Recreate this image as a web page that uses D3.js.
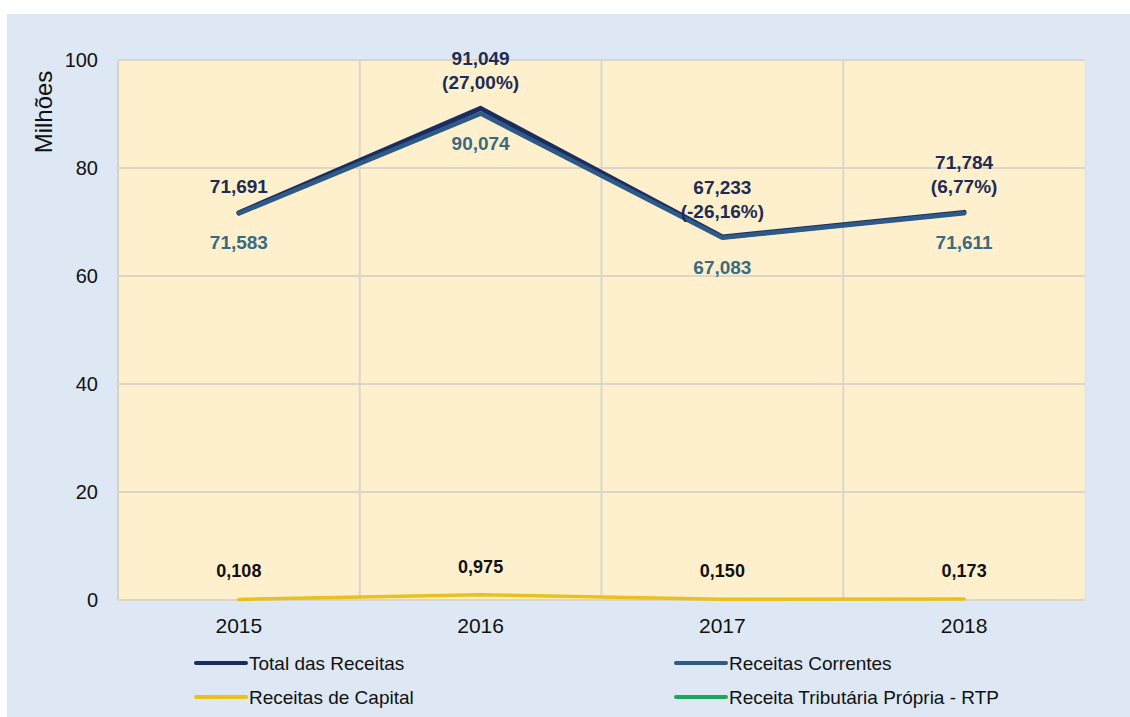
<!DOCTYPE html>
<html>
<head>
<meta charset="utf-8">
<script src="https://cdn.jsdelivr.net/npm/d3@7"></script>
<style>
  html, body { margin: 0; padding: 0; background: #ffffff; }
  svg { display: block; font-family: "Liberation Sans", Arial, sans-serif; }
</style>
</head>
<body>
<svg id="chart" width="1130" height="717"></svg>
<script>
// Receitas por ano (em milhões)
const years = ["2015", "2016", "2017", "2018"];
const totalReceitas = [71.691, 91.049, 67.233, 71.784];
const receitasCorrentes = [71.583, 90.074, 67.083, 71.611];
const receitasCapital = [0.108, 0.975, 0.150, 0.173];
const yTicks = [0, 20, 40, 60, 80, 100];

const legendItems = [
  { name: "Total das Receitas", color: "#1b2d5e" },
  { name: "Receitas Correntes", color: "#2d5a86" },
  { name: "Receitas de Capital", color: "#e8c11f" },
  { name: "Receita Tributária Própria - RTP", color: "#1da65b" }
];

const svg = d3.select("#chart");

// fundo do gráfico
svg.append("rect").attr("x", 7).attr("y", 14).attr("width", 1123).attr("height", 703)
  .attr("fill", "#dde8f4");

const plot = { left: 118, right: 1085, top: 60, bottom: 600 };

const x = d3.scaleBand().domain(years).range([plot.left, plot.right]);
const xc = d => x(d) + x.bandwidth() / 2;
const y = d3.scaleLinear().domain([0, 100]).range([plot.bottom, plot.top]);

// área de plotagem
svg.append("rect")
  .attr("x", plot.left).attr("y", plot.top)
  .attr("width", plot.right - plot.left).attr("height", plot.bottom - plot.top)
  .attr("fill", "#fff0cd");

// grades
svg.append("g").selectAll("line").data(yTicks).join("line")
  .attr("x1", plot.left).attr("x2", plot.right)
  .attr("y1", d => y(d)).attr("y2", d => y(d))
  .attr("stroke", "#dcd6c8").attr("stroke-width", 2);

svg.append("g").selectAll("line").data(years.slice(1)).join("line")
  .attr("x1", d => x(d)).attr("x2", d => x(d))
  .attr("y1", plot.top).attr("y2", plot.bottom)
  .attr("stroke", "#dcd6c8").attr("stroke-width", 2);

svg.append("line")
  .attr("x1", plot.left).attr("x2", plot.left)
  .attr("y1", plot.top).attr("y2", plot.bottom)
  .attr("stroke", "#d6d2c8").attr("stroke-width", 2);
svg.append("line")
  .attr("x1", plot.right).attr("x2", plot.right)
  .attr("y1", plot.top).attr("y2", plot.bottom)
  .attr("stroke", "#e6e0d2").attr("stroke-width", 1);

// eixos
const yAxis = svg.append("g")
  .attr("transform", `translate(${plot.left},0)`)
  .call(d3.axisLeft(y).tickValues(yTicks).tickSize(0).tickPadding(20).tickFormat(d3.format("d")));
yAxis.select(".domain").remove();
yAxis.selectAll("text").attr("font-size", 20).attr("fill", "#111").attr("font-family", "Liberation Sans, Arial, sans-serif");

const xAxis = svg.append("g")
  .attr("transform", `translate(0,${plot.bottom})`)
  .call(d3.axisBottom(x).tickSize(0).tickPadding(18));
xAxis.select(".domain").remove();
xAxis.selectAll("text").attr("font-size", 21).attr("fill", "#111").attr("font-family", "Liberation Sans, Arial, sans-serif");

svg.append("text")
  .attr("transform", "translate(52,112) rotate(-90)")
  .attr("text-anchor", "middle")
  .attr("font-size", 24).attr("fill", "#111")
  .text("Milhões");

// linhas
const line = d3.line().x(d => xc(d.year)).y(d => y(d.value));
const series = [
  { values: totalReceitas, color: legendItems[0].color, width: 5 },
  { values: receitasCorrentes, color: legendItems[1].color, width: 4.5 },
  { values: receitasCapital, color: legendItems[2].color, width: 3.5 }
];
series.forEach(s => {
  svg.append("path")
    .datum(years.map((yr, i) => ({ year: yr, value: s.values[i] })))
    .attr("d", line)
    .attr("fill", "none")
    .attr("stroke", s.color)
    .attr("stroke-width", s.width)
    .attr("stroke-linejoin", "round")
    .attr("stroke-linecap", "round");
});

// rótulos de dados (formato pt-BR, hífen simples no sinal negativo)
const fmt = v => d3.format(".3f")(v).replace(".", ",");
const pct = v => v.toFixed(2).replace(".", ",") + "%";
const labels = svg.append("g").attr("font-weight", "bold").attr("font-size", 19).attr("text-anchor", "middle");

years.forEach((yr, i) => {
  const px = xc(yr);
  const py = y(totalReceitas[i]);
  if (i === 0) {
    labels.append("text").attr("x", px).attr("y", py - 20).attr("fill", "#1e2c55").text(fmt(totalReceitas[i]));
  } else {
    const change = (totalReceitas[i] / totalReceitas[i - 1] - 1) * 100;
    labels.append("text").attr("x", px).attr("y", py - 19).attr("fill", "#1e2c55").text(`(${pct(change)})`);
    labels.append("text").attr("x", px).attr("y", py - 43).attr("fill", "#1e2c55").text(fmt(totalReceitas[i]));
  }
  labels.append("text").attr("x", px).attr("y", y(receitasCorrentes[i]) + 36)
    .attr("fill", "#3a6a82").text(fmt(receitasCorrentes[i]));
  labels.append("text").attr("x", px).attr("y", y(receitasCapital[i]) - 22)
    .attr("font-size", 18).attr("fill", "#111").text(fmt(receitasCapital[i]));
});

// legenda
const legendPos = [
  { x: 196, y: 663 }, { x: 676, y: 663 },
  { x: 196, y: 697 }, { x: 676, y: 697 }
];
const legend = svg.append("g");
legendItems.forEach((item, i) => {
  const p = legendPos[i];
  legend.append("line")
    .attr("x1", p.x).attr("x2", p.x + 50).attr("y1", p.y).attr("y2", p.y)
    .attr("stroke", item.color).attr("stroke-width", 4).attr("stroke-linecap", "round");
  legend.append("text")
    .attr("x", p.x + 53).attr("y", p.y).attr("dy", "0.35em")
    .attr("font-size", 19).attr("fill", "#111").text(item.name);
});
</script>
</body>
</html>
